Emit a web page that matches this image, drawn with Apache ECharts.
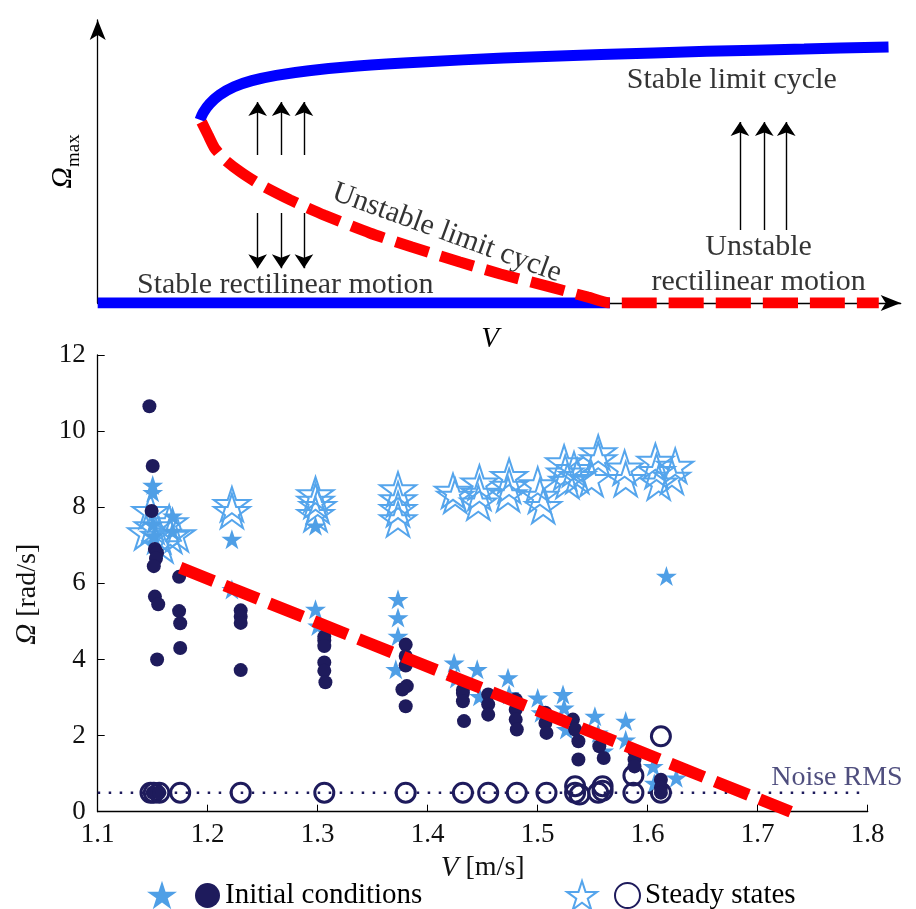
<!DOCTYPE html>
<html>
<head>
<meta charset="utf-8">
<script src="https://cdn.jsdelivr.net/npm/echarts@6/dist/echarts.min.js"></script>
<style>html,body{margin:0;background:#fff}#chart{width:916px;height:909px}</style>
</head>
<body>
<div id="chart"></div>
<script>
// --- top schematic, arbitrary units ---
const stableCycle = [[12.6,62.5],[13.0,65.0],[13.8,68.0],[15.0,71.0],[16.8,73.8],[19.0,75.9],[22.0,77.7],[26.0,79.3],[32.0,80.9],[40.0,82.3],[50.0,83.6],[62.0,84.8],[75.0,85.9],[87.0,86.7],[97.4,87.4]];
const unstableCycle = [[12.8,61.8],[13.6,57.3],[14.4,52.9],[15.7,48.8],[17.6,44.7],[19.9,40.6],[23.7,35.2],[27.9,30.0],[33.5,23.9],[38.7,19.1],[44.6,14.0],[49.6,9.9],[55.7,5.5],[60.4,2.0],[63.1,0]];
const stableRest = [[0,0],[63.1,0]];
const unstableRest = [[63.1,0],[96.2,0]];
const arrowsUp = [[19.7,50.5,68.6],[22.6,50.5,68.6],[25.4,50.5,68.6],[79.1,24.9,61.8],[82.1,24.9,61.8],[84.8,24.9,61.8]];
const arrowsDown = [[19.7,30.7,11.9],[22.6,30.7,11.9],[25.4,30.7,11.9]];
const topNotes = [
  [78.1,76.1,'Stable limit cycle',0],
  [23.1,6.1,'Stable rectilinear motion',0],
  [43.0,23.9,'Unstable limit cycle',-20],
  [81.4,19.1,'Unstable',0],
  [81.4,7.2,'rectilinear motion',0]
];

// --- measurements ---
const icCircles = [[1.147,10.65],[1.150,9.08],[1.149,7.9],[1.152,6.9],[1.154,6.8],[1.153,6.65],[1.151,6.45],[1.152,5.65],[1.155,5.45],[1.154,4.0],[1.150,0.5],[1.156,0.5],
  [1.174,6.17],[1.174,5.27],[1.175,4.95],[1.175,4.3],
  [1.230,5.29],[1.230,5.12],[1.230,4.96],[1.230,3.72],
  [1.306,4.6],[1.306,4.5],[1.306,4.35],[1.306,3.92],[1.306,3.7],[1.307,3.4],
  [1.380,4.39],[1.380,4.09],[1.380,3.84],[1.381,3.3],[1.377,3.21],[1.380,2.77],
  [1.432,3.2],[1.432,3.12],[1.432,2.9],[1.433,2.38],
  [1.455,3.08],[1.455,2.82],[1.455,2.55],
  [1.480,2.95],[1.480,2.68],[1.480,2.42],[1.481,2.16],
  [1.507,2.6],[1.507,2.33],[1.508,2.07],
  [1.532,2.42],[1.534,2.16],[1.537,1.85],[1.537,1.37],
  [1.556,1.72],[1.560,1.41],
  [1.588,1.59],[1.588,1.37],[1.588,1.19],
  [1.612,0.84],[1.612,0.63],[1.612,0.5]];
const icStars = [[1.150,8.58],[1.150,8.39],[1.151,7.25],[1.150,7.55],[1.168,7.77],[1.168,7.37],[1.222,7.16],[1.222,5.84],[1.298,7.51],[1.298,5.32],[1.300,4.88],
  [1.373,5.58],[1.373,5.10],[1.373,4.61],[1.371,3.74],[1.424,3.91],[1.426,3.5],[1.445,3.74],[1.447,3.03],[1.473,3.52],[1.474,3.08],
  [1.500,2.99],[1.503,2.6],[1.523,3.08],[1.524,2.73],[1.526,2.16],[1.552,2.51],[1.555,2.07],[1.560,1.6],[1.580,2.38],[1.580,1.89],
  [1.605,1.19],[1.606,0.75],[1.626,0.89],[1.617,6.19]];
const ssStars = [[1.148,7.9],[1.144,7.34],[1.156,7.25],[1.166,7.25],[1.172,7.29],[1.150,7.5],[1.165,7.6],[1.158,7.0],
  [1.222,8.08],[1.222,7.9],[1.298,8.34],[1.298,8.17],[1.300,8.03],[1.298,7.82],
  [1.373,8.47],[1.373,8.21],[1.373,7.95],[1.373,7.68],[1.423,8.43],[1.425,8.3],
  [1.447,8.65],[1.447,8.38],[1.446,8.12],[1.474,8.82],[1.474,8.56],[1.473,8.34],
  [1.500,8.6],[1.502,8.3],[1.505,8.03],[1.524,9.18],[1.525,8.91],[1.527,8.69],[1.533,9.0],[1.536,8.82],
  [1.555,9.44],[1.555,9.26],[1.549,8.74],[1.579,9.04],[1.580,8.74],
  [1.607,9.22],[1.608,8.95],[1.610,8.65],[1.625,9.09],[1.622,8.8]];
const ssCircles = [[1.148,0.5],[1.151,0.5],[1.156,0.5],[1.175,0.5],[1.230,0.5],[1.306,0.5],[1.380,0.5],[1.432,0.5],[1.455,0.5],[1.481,0.5],[1.508,0.5],
  [1.534,0.5],[1.538,0.45],[1.555,0.5],[1.559,0.55],[1.587,0.5],[1.612,0.5],
  [1.534,0.67],[1.559,0.67],[1.587,0.95],[1.612,1.98]];
const trend = [[1.175,6.41],[1.73,0]];
const noiseRms = [[1.1,0.5],[1.795,0.5]];
const noiseNote = [[1.772,0.885]];
const xTicks = [1.1,1.8,0.1];
const yTicks = [0,12,2];

const NAVY = '#1e1b5c', LIGHT = '#55a5ec', FONT = 'Liberation Serif';

function starPath() {
  let d = '';
  for (let i = 0; i < 10; i++) {
    const r = i % 2 ? 0.382 : 1;
    const a = Math.PI / 2 + i * Math.PI / 5;
    d += (i ? 'L' : 'M') + (r * Math.cos(a)).toFixed(3) + ' ' + (-r * Math.sin(a)).toFixed(3);
  }
  return 'path://' + d + 'Z';
}
const STAR = starPath();

const arrowLines = arrowsUp.map(a => ({coords: [[a[0], a[1]], [a[0], a[2]]]}))
  .concat(arrowsDown.map(a => ({coords: [[a[0], a[1]], [a[0], a[2]]]})));

const chart = echarts.init(document.getElementById('chart'));
const hidden = {axisTick: {show: false}, axisLabel: {show: false}, splitLine: {show: false}};
const blackAxis = {show: true, symbol: ['none', 'arrow'], symbolSize: [12, 20], lineStyle: {color: '#000', width: 1.3}};
const legendText = {fontFamily: FONT, fontSize: 29, color: '#000'};
const noName = () => '';

chart.setOption({
  animation: false,
  backgroundColor: '#fff',
  grid: [
    {left: 97.7, top: 20, width: 803, height: 283},
    {left: 97.7, top: 354.9, width: 770, height: 456.8}
  ],
  xAxis: [
    Object.assign({type: 'value', gridIndex: 0, min: 0, max: 98.9, axisLine: blackAxis,
      name: 'V', nameLocation: 'middle', nameGap: 22,
      nameTextStyle: {fontFamily: FONT, fontSize: 29, fontStyle: 'italic', color: '#000', padding: [0, 18, 0, 0]}}, hidden),
    {type: 'value', gridIndex: 1, min: xTicks[0], max: xTicks[1], interval: xTicks[2],
      axisLine: {lineStyle: {color: '#000', width: 1.3}},
      axisTick: {inside: true, length: 7, lineStyle: {color: '#000'}},
      axisLabel: {fontFamily: FONT, fontSize: 27, color: '#111', margin: 10, formatter: v => v.toFixed(1)},
      splitLine: {show: false},
      name: '{i|V} [m/s]', nameLocation: 'middle', nameGap: 27,
      nameTextStyle: {fontFamily: FONT, fontSize: 28, color: '#111',
        rich: {i: {fontFamily: FONT, fontSize: 29, fontStyle: 'italic', color: '#111'}}}}
  ],
  yAxis: [
    Object.assign({type: 'value', gridIndex: 0, min: 0, max: 96.6, axisLine: blackAxis,
      name: '{o|Ω}{s|max}', nameLocation: 'middle', nameGap: 20,
      nameTextStyle: {color: '#000', rich: {
        o: {fontFamily: FONT, fontSize: 30, fontStyle: 'italic', color: '#000', lineHeight: 34, verticalAlign: 'bottom'},
        s: {fontFamily: FONT, fontSize: 19, color: '#000', lineHeight: 34, verticalAlign: 'bottom', padding: [0, 0, -6, 0]}}}}, hidden),
    {type: 'value', gridIndex: 1, min: yTicks[0], max: yTicks[1], interval: yTicks[2],
      axisLine: {show: true, lineStyle: {color: '#000', width: 1.3}},
      axisTick: {show: true, inside: true, length: 7, lineStyle: {color: '#000'}},
      axisLabel: {fontFamily: FONT, fontSize: 27, color: '#111', margin: 12},
      splitLine: {show: false},
      name: '{i|Ω} [rad/s]', nameLocation: 'middle', nameGap: 56,
      nameTextStyle: {fontFamily: FONT, fontSize: 28, color: '#111', padding: [0, 22, 0, 0],
        rich: {i: {fontFamily: FONT, fontSize: 29, fontStyle: 'italic', color: '#111'}}}}
  ],
  legend: [
    {left: 142, top: 875, itemWidth: 30, itemHeight: 30, data: ['ic-star'], formatter: noName, textStyle: legendText},
    {left: 190, top: 876, itemWidth: 25, itemHeight: 27, data: ['Initial conditions'], textStyle: legendText},
    {left: 561, top: 875, itemWidth: 30, itemHeight: 30, data: ['ss-star'], formatter: noName, textStyle: legendText},
    {left: 609, top: 876, itemWidth: 25, itemHeight: 27, data: ['Steady states'], textStyle: legendText}
  ],
  series: [
    // schematic
    {type: 'line', xAxisIndex: 0, yAxisIndex: 0, data: stableRest, showSymbol: false, silent: true,
      lineStyle: {color: '#0000ff', width: 11, cap: 'butt'}},
    {type: 'line', xAxisIndex: 0, yAxisIndex: 0, data: stableCycle, smooth: 0.3, showSymbol: false, silent: true,
      lineStyle: {color: '#0000ff', width: 11, cap: 'butt'}},
    {type: 'line', xAxisIndex: 0, yAxisIndex: 0, data: unstableCycle.concat(unstableRest.slice(1)), smooth: 0.2, showSymbol: false, silent: true,
      lineStyle: {color: '#ff0000', width: 11, type: [35, 12], cap: 'butt'}},
    {type: 'lines', coordinateSystem: 'cartesian2d', xAxisIndex: 0, yAxisIndex: 0, data: arrowLines, silent: true,
      symbol: ['none', 'arrow'], symbolSize: [8, 14], lineStyle: {color: '#000', width: 1.4, opacity: 1}},
    {type: 'scatter', xAxisIndex: 0, yAxisIndex: 0, silent: true, symbolSize: 1, itemStyle: {color: 'rgba(0,0,0,0)'},
      data: topNotes.map(t => ({value: [t[0], t[1]], name: t[2], label: {rotate: t[3]}})),
      label: {show: true, position: 'inside', formatter: p => p.name, fontFamily: FONT, fontSize: 30, color: '#000'}},
    // measurements
    {type: 'line', xAxisIndex: 1, yAxisIndex: 1, data: noiseRms, showSymbol: false, silent: true,
      lineStyle: {color: NAVY, width: 2.5, type: [2.5, 8.5]}},
    {name: 'ss-star', type: 'scatter', xAxisIndex: 1, yAxisIndex: 1, data: ssStars, symbol: STAR, symbolSize: 36, symbolKeepAspect: true,
      itemStyle: {color: 'rgba(255,255,255,0)', borderColor: LIGHT, borderWidth: 2, opacity: 1}},
    {name: 'Steady states', type: 'scatter', xAxisIndex: 1, yAxisIndex: 1, data: ssCircles, symbol: 'circle', symbolSize: 19,
      itemStyle: {color: 'rgba(255,255,255,0)', borderColor: NAVY, borderWidth: 3, opacity: 1}},
    {name: 'ic-star', type: 'scatter', xAxisIndex: 1, yAxisIndex: 1, data: icStars, symbol: STAR, symbolSize: 21, symbolKeepAspect: true,
      itemStyle: {color: '#4f9fe6', opacity: 1}},
    {name: 'Initial conditions', type: 'scatter', xAxisIndex: 1, yAxisIndex: 1, data: icCircles, symbol: 'circle', symbolSize: 14,
      itemStyle: {color: NAVY, opacity: 1}},
    {type: 'line', xAxisIndex: 1, yAxisIndex: 1, data: trend, showSymbol: false, silent: true,
      lineStyle: {color: '#ff0000', width: 12, type: [36, 12], cap: 'butt'}},
    {type: 'scatter', xAxisIndex: 1, yAxisIndex: 1, silent: true, symbolSize: 1, itemStyle: {color: 'rgba(0,0,0,0)'},
      data: noiseNote, label: {show: true, position: 'inside', formatter: 'Noise RMS', fontFamily: FONT, fontSize: 28, color: '#23225e'}}
  ]
});
</script>
</body>
</html>
